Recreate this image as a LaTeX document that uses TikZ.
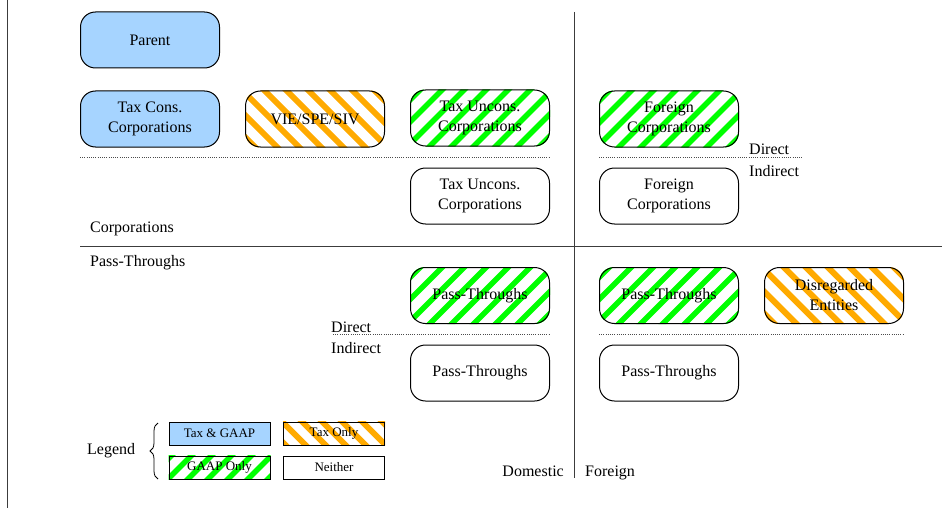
\documentclass[tikz,border=0pt]{standalone}
\usepackage{fontspec}
\setmainfont{Liberation Serif}
\usetikzlibrary{calc,decorations.pathreplacing}
\pgfdeclarelayer{bg}
\pgfsetlayers{bg,main}
\definecolor{taxgaap}{RGB}{166,212,255}
\definecolor{gaapgreen}{RGB}{0,255,0}
\definecolor{taxorange}{RGB}{255,170,0}
\definecolor{linegray}{RGB}{60,60,60}
\newcommand\mystripes[5]{% node, color, direction (1 = /, -1 = \), period, width
  \begin{pgfonlayer}{bg}
  \begin{scope}
    \clip[rounded corners=\cornerr] (#1.south west) rectangle (#1.north east);
    \foreach \k in {-8,...,8} {
      \draw[#2, line width=#5pt, line cap=butt]
        ($(#1.center)+(\k*#4-50*#3,50)$) -- ($(#1.center)+(\k*#4+50*#3,-50)$);
    }
  \end{scope}
  \end{pgfonlayer}}
\newcommand\cornerr{15pt}
\begin{document}
\begin{tikzpicture}[x=1pt,y=-1pt,
  entity/.style={draw=black, line width=1pt, rounded corners=15pt,
    minimum width=139pt, minimum height=56pt, inner sep=0pt, align=center,
    font=\fontsize{16}{20}\selectfont},
  legbox/.style={draw=black, line width=1pt, minimum width=101pt,
    minimum height=23pt, inner sep=0pt, font=\fontsize{13}{15}\selectfont},
  lbl/.style={anchor=base west, inner sep=0pt, font=\fontsize{16}{20}\selectfont},
  divider/.style={draw=linegray, line width=1pt},
  dotline/.style={draw=black!70, line width=0.7pt, dash pattern=on 1pt off 1.2pt}]
\useasboundingbox (0,0) rectangle (952,508);

% frame lines
\draw[divider] (7,0) -- (7,508);
\draw[divider] (574,12) -- (574,478);
\draw[divider] (80,246) -- (942,246);

% dotted direct/indirect lines
\draw[dotline] (80,157) -- (550,157);
\draw[dotline] (599,157) -- (803,157);
\draw[dotline] (333,334) -- (549,334);
\draw[dotline] (599,334) -- (903,334);

% entities
\node[entity, fill=taxgaap] (parent) at (150,40) {Parent};
\node[entity, fill=taxgaap] (taxcons) at (150,119) {Tax Cons.\\Corporations};
\node[entity] (vie) at (315,119) {VIE/SPE/SIV};
\node[entity] (uncgreen) at (480,118) {Tax Uncons.\\Corporations};
\node[entity] (uncwhite) at (480,196) {Tax Uncons.\\Corporations};
\node[entity] (forgreen) at (669,119) {Foreign\\Corporations};
\node[entity] (forwhite) at (669,196) {Foreign\\Corporations};
\node[entity] (ptdomg) at (480,295.5) {Pass-Throughs};
\node[entity] (ptforg) at (669,295.5) {Pass-Throughs};
\node[entity] (disreg) at (834,295.5) {Disregarded\\Entities};
\node[entity] (ptdomw) at (480,373) {Pass-Throughs};
\node[entity] (ptforw) at (669,373) {Pass-Throughs};

\mystripes{vie}{taxorange}{-1}{22}{6}
\mystripes{uncgreen}{gaapgreen}{1}{22}{5.5}
\mystripes{forgreen}{gaapgreen}{1}{22}{5.5}
\mystripes{ptdomg}{gaapgreen}{1}{22}{5.5}
\mystripes{ptforg}{gaapgreen}{1}{22}{5.5}
\mystripes{disreg}{taxorange}{-1}{22}{6}

% labels
\node[lbl] (corp) at (90,232) {Corporations};
\node[lbl] (pass) at (90,266) {Pass-Throughs};
\node[lbl] (dir1) at (749,154) {Direct};
\node[lbl] (ind1) at (749,176) {Indirect};
\node[lbl] (dir2) at (331,332) {Direct};
\node[lbl] (ind2) at (331,353) {Indirect};
\node[lbl, anchor=base east] (dom) at (564,476) {Domestic};
\node[lbl] (forl) at (585,476) {Foreign};

% legend
\renewcommand\cornerr{0pt}
\node[lbl] (legend) at (87,454) {Legend};
\draw[line width=0.8pt, decorate, decoration={brace, amplitude=8pt}]
  (158,479) -- (158,423);
\node[legbox, fill=taxgaap] (lg1) at (219.5,433.5) {Tax \& GAAP};
\node[legbox] (lg2) at (334,433.5) {Tax Only};
\node[legbox] (lg3) at (219.5,467.5) {GAAP Only};
\node[legbox] (lg4) at (334,467.5) {Neither};
\mystripes{lg2}{taxorange}{-1}{20}{6}
\mystripes{lg3}{gaapgreen}{1}{20}{5.5}
\end{tikzpicture}
\end{document}
